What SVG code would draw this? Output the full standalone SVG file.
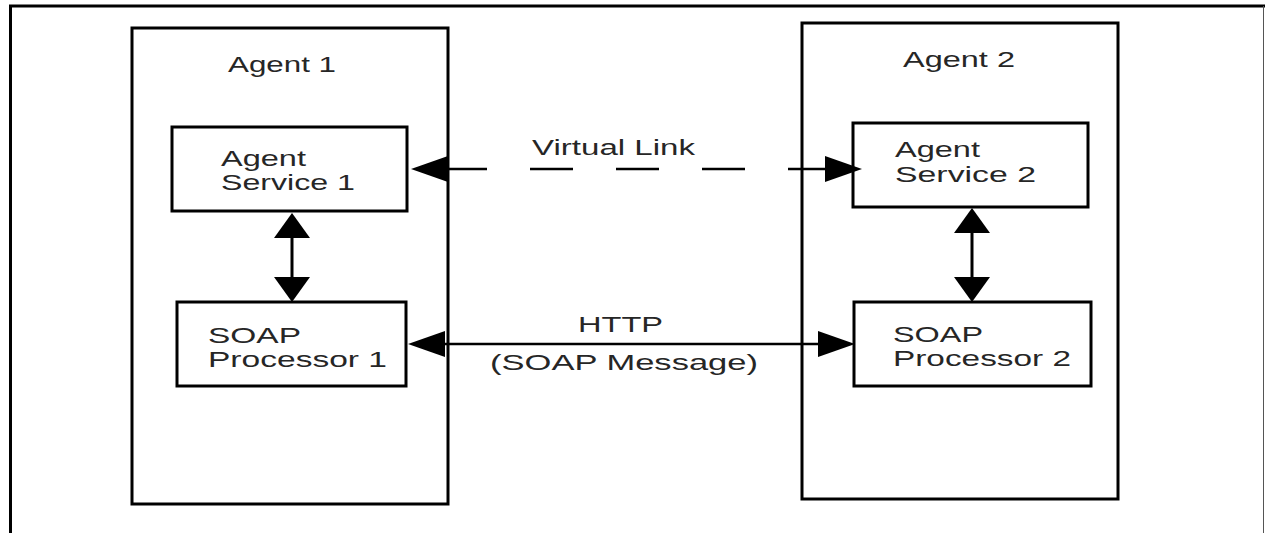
<svg xmlns="http://www.w3.org/2000/svg" width="1265" height="533" viewBox="0 0 1265 533">
<style>
.box{fill:none;stroke:#000;stroke-width:3}
.lbl{font-family:"Liberation Sans",Arial,sans-serif;font-size:22.5px;fill:#262626}
.ln{fill:none;stroke:#000}
</style>
<defs>
<marker id="arrA" markerUnits="userSpaceOnUse" viewBox="0 0 37 26" refX="0" refY="13" markerWidth="37" markerHeight="26" orient="auto-start-reverse">
<path d="M0,0 L37,13 L0,26 z" fill="#000"/>
</marker>
<marker id="arrB" markerUnits="userSpaceOnUse" viewBox="0 0 25 36" refX="0" refY="18" markerWidth="25" markerHeight="36" orient="auto-start-reverse">
<path d="M0,0 L25,18 L0,36 z" fill="#000"/>
</marker>
</defs>
<rect width="1265" height="533" fill="#fff"/>
<g id="frame">
<path d="M10.5,540 V6 H1265" fill="none" stroke="#000" stroke-width="3"/>
<path d="M1263.5,6 V533" fill="none" stroke="#555" stroke-width="1"/>
</g>
<g id="agent1">
<rect class="box" x="132" y="28" width="316" height="476"/>
<text class="lbl" x="228" y="72" textLength="108" lengthAdjust="spacingAndGlyphs">Agent 1</text>
</g>
<g id="agent2">
<rect class="box" x="802" y="23" width="316" height="476"/>
<text class="lbl" x="903" y="67" textLength="112" lengthAdjust="spacingAndGlyphs">Agent 2</text>
</g>
<g id="agent-service-1">
<rect class="box" x="172" y="127" width="235" height="84"/>
<text class="lbl" x="221" y="166" textLength="85" lengthAdjust="spacingAndGlyphs">Agent</text>
<text class="lbl" x="221" y="190" textLength="134" lengthAdjust="spacingAndGlyphs">Service 1</text>
</g>
<g id="soap-processor-1">
<rect class="box" x="177" y="302" width="229" height="84"/>
<text class="lbl" x="208" y="343" textLength="93" lengthAdjust="spacingAndGlyphs">SOAP</text>
<text class="lbl" x="208" y="367" textLength="179" lengthAdjust="spacingAndGlyphs">Processor 1</text>
</g>
<g id="agent-service-2">
<rect class="box" x="853" y="123" width="235" height="84"/>
<text class="lbl" x="895" y="157" textLength="85" lengthAdjust="spacingAndGlyphs">Agent</text>
<text class="lbl" x="895" y="182" textLength="141" lengthAdjust="spacingAndGlyphs">Service 2</text>
</g>
<g id="soap-processor-2">
<rect class="box" x="854" y="302" width="237" height="84"/>
<text class="lbl" x="893" y="342" textLength="90" lengthAdjust="spacingAndGlyphs">SOAP</text>
<text class="lbl" x="893" y="366" textLength="178" lengthAdjust="spacingAndGlyphs">Processor 2</text>
</g>
<g id="connectors">
<path class="ln" d="M292,238 V277" stroke-width="3" marker-start="url(#arrB)" marker-end="url(#arrB)"/>
<path class="ln" d="M972,233 V277" stroke-width="3" marker-start="url(#arrB)" marker-end="url(#arrB)"/>
<path class="ln" d="M448,169 H825" stroke-width="2.5" stroke-dasharray="43 43" stroke-dashoffset="4" marker-start="url(#arrA)" marker-end="url(#arrA)"/>
<path class="ln" d="M445,344 H818" stroke-width="2.5" marker-start="url(#arrA)" marker-end="url(#arrA)"/>
<text class="lbl" x="532" y="155" textLength="163" lengthAdjust="spacingAndGlyphs">Virtual Link</text>
<text class="lbl" x="578" y="332" textLength="85" lengthAdjust="spacingAndGlyphs">HTTP</text>
<text class="lbl" x="490" y="370" textLength="268" lengthAdjust="spacingAndGlyphs">(SOAP Message)</text>
</g>
</svg>
